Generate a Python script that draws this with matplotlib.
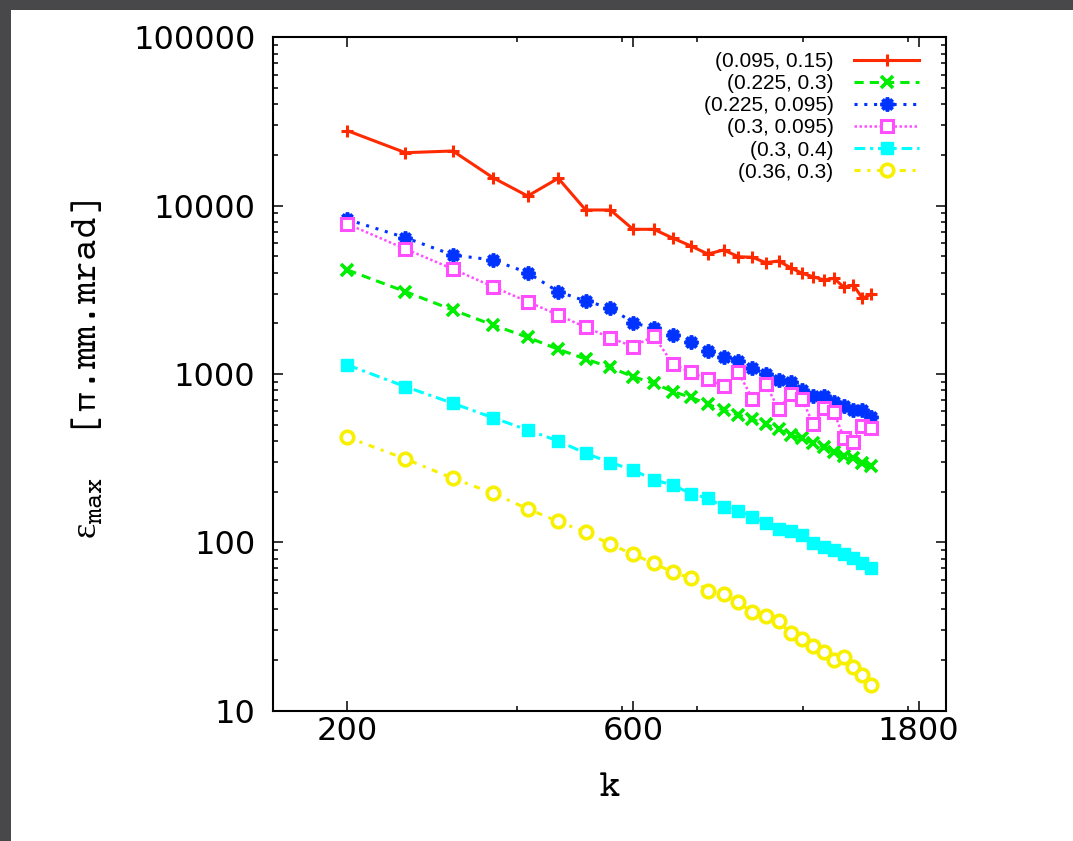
import matplotlib
matplotlib.use("Agg")
import matplotlib.pyplot as plt
from matplotlib.ticker import FixedLocator, FixedFormatter, LogLocator, NullFormatter
from matplotlib.patches import Rectangle

# ---------------- data ----------------
k = [200, 250, 300, 350, 400, 450, 500, 550, 600, 650, 700, 750, 800, 850,
     900, 950, 1000, 1050, 1100, 1150, 1200, 1250, 1300, 1350, 1400, 1450, 1500]

labels = ["(0.095, 0.15)", "(0.225, 0.3)", "(0.225, 0.095)",
          "(0.3, 0.095)", "(0.3, 0.4)", "(0.36, 0.3)"]

red = [27870, 20630, 21120, 14660, 11410, 14540, 9424, 9424, 7236, 7236, 6400,
       5758, 5162, 5453, 4975, 4934, 4583, 4691, 4280, 3964, 3784, 3617, 3702,
       3273, 3378, 2817, 2974]
green = [4147, 3083, 2400, 1955, 1652, 1402, 1228, 1093, 964, 881, 785, 727,
         661, 611, 571, 538, 502, 469, 434, 415, 388, 370, 346, 327, 316, 295, 284]
blue = [8275, 6451, 5092, 4756, 3996, 3083, 2714, 2466, 2017, 1868, 1705, 1543,
        1375, 1267, 1200, 1090, 996, 921, 900, 804, 740, 740, 685, 645, 611, 611, 558]
magenta = [7780, 5527, 4205, 3300, 2689, 2242, 1894, 1643, 1453, 1682, 1142,
           1023, 930, 849, 1023, 710, 872, 617, 757, 710, 502, 626, 592, 418,
           396, 493, 476]
cyan = [1131, 841, 670, 550, 465, 400, 338, 298, 269, 235, 219, 194, 183, 163,
        154, 142, 130, 120, 116, 111, 98.7, 94.2, 90.1, 85.3, 80.4, 75.1, 70.1]
yellow = [421, 313, 240, 196, 158, 133, 115, 97.4, 84.9, 75.1, 66.4, 61.2, 51.6,
          49.3, 44.0, 38.4, 36.5, 34.1, 28.8, 26.6, 24.3, 22.2, 20.0, 20.8, 18.3,
          16.3, 14.2]

x_major = [200, 600, 1800]
x_major_labels = ["200", "600", "1800"]
x_minor = [384, 576, 768, 1152, 1728]
y_major = [10, 100, 1000, 10000, 100000]
y_major_labels = ["10", "100", "1000", "10000", "100000"]

# ---------------- style ----------------
MONO = ['Courier Prime', 'Cutive Mono', 'Nimbus Mono PS', 'Liberation Mono', 'DejaVu Sans Mono']
plt.rcParams['mathtext.fontset'] = 'custom'
plt.rcParams['mathtext.rm'] = 'Liberation Serif'
plt.rcParams['mathtext.tt'] = 'Courier Prime'

W, H = 1073, 841
fig = plt.figure(figsize=(W / 100, H / 100), dpi=100)
fig.patch.set_facecolor('white')

fig.patches.append(Rectangle((0, 0), 11 / W, 1, transform=fig.transFigure,
                             facecolor='#48484b', edgecolor='none', zorder=-10))
fig.patches.append(Rectangle((0, 1 - 10 / H), 1, 10 / H, transform=fig.transFigure,
                             facecolor='#48484b', edgecolor='none', zorder=-10))

left, right, top, bottom = 272.7, 946.0, 37.3, 710.7
ax = fig.add_axes([left / W, 1 - bottom / H, (right - left) / W, (bottom - top) / H])
ax.set_xscale('log')
ax.set_yscale('log')
ax.set_xlim(150, 2000)
ax.set_ylim(10, 100000)

series = [
    dict(y=red, color='#ff2a00', ls='-', marker='+', ms=9, mew=2.2, mfc='#ff2a00', lw=2.2),
    dict(y=green, color='#00ee00', ls=(0, (3, 2)), marker='x', ms=8.5, mew=2.6, mfc='#00ee00', lw=2.2),
    dict(y=blue, color='#0033ff', ls=(0, (1, 2.2)), marker=(8, 2, 0), ms=10, mew=2.6, mfc='#0033ff', lw=2.2),
    dict(y=magenta, color='#ff4dff', ls=(0, (1, 1)), marker='s', ms=9, mew=2.2, mfc='white', lw=1.8),
    dict(y=cyan, color='#00ffff', ls=(0, (3.5, 1.6, 1, 1.6)), marker='s', ms=8, mew=1, mfc='#00ffff', lw=2.2),
    dict(y=yellow, color='#f7f000', ls=(0, (2, 2.2, 1, 2.2)), marker='o', ms=9, mew=2.6, mfc='white', lw=2.2),
]

handles = []
for s, lab in zip(series, labels):
    h, = ax.plot(k, s['y'], color=s['color'], linestyle=s['ls'], linewidth=s['lw'],
                 marker=s['marker'], markersize=s['ms'], markeredgewidth=s['mew'],
                 markerfacecolor=s['mfc'], markeredgecolor=s['color'], label=lab,
                 clip_on=False)
    handles.append(h)

ax.xaxis.set_major_locator(FixedLocator(x_major))
ax.xaxis.set_major_formatter(FixedFormatter(x_major_labels))
ax.xaxis.set_minor_locator(FixedLocator(x_minor))
ax.xaxis.set_minor_formatter(NullFormatter())
ax.yaxis.set_major_locator(FixedLocator(y_major))
ax.yaxis.set_major_formatter(FixedFormatter(y_major_labels))
ax.yaxis.set_minor_locator(LogLocator(base=10, subs=range(2, 10), numticks=20))
ax.yaxis.set_minor_formatter(NullFormatter())

ax.tick_params(which='both', direction='in', top=True, right=True, width=1.1, color='black')
ax.tick_params(which='major', length=7.2)
ax.tick_params(which='minor', length=3.6)
ax.tick_params(axis='x', which='major', pad=4, labelsize=23)
ax.tick_params(axis='y', which='major', pad=12.5, labelsize=23)
for t in ax.get_xticklabels() + ax.get_yticklabels():
    t.set_fontfamily('DejaVu Sans')
for sp in ax.spines.values():
    sp.set_linewidth(1.5)

ax.set_xlabel('k', fontfamily=MONO, fontsize=26)
ax.xaxis.set_label_coords(0.5, (bottom - 772) / (bottom - top))
ax.set_ylabel(r'$\mathrm{ε}_{\mathtt{max}}$  [π.mm.mrad]', fontfamily=MONO, fontsize=26)
ax.yaxis.set_label_coords((104 - left) / (right - left), (bottom - 369) / (bottom - top))

leg = ax.legend(handles=handles, loc='upper right',
                bbox_to_anchor=((919 - left) / (right - left), (bottom - 52) / (bottom - top)),
                frameon=False, markerfirst=False, numpoints=1,
                prop={'family': 'Liberation Sans', 'size': 15},
                handlelength=3.1, handletextpad=1.0, labelspacing=0.15,
                borderpad=0, borderaxespad=0)

fig.savefig('out.png', dpi=100, facecolor='white')
